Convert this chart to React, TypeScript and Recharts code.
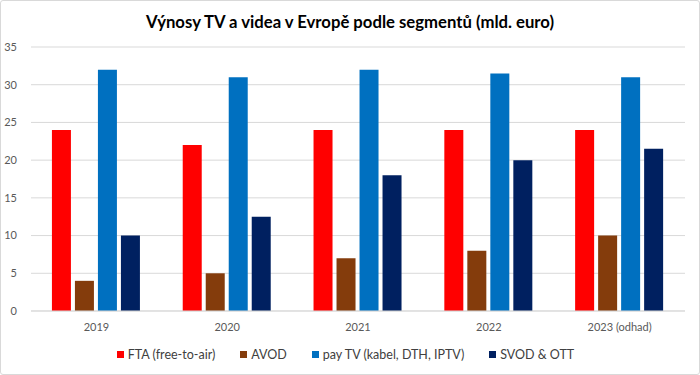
import { BarChart, Bar, XAxis, YAxis, CartesianGrid, Legend } from 'recharts'

const years = ['2019', '2020', '2021', '2022', '2023 (odhad)']
const fta = [24, 22, 24, 24, 24]
const avod = [4, 5, 7, 8, 10]
const payTv = [32, 31, 32, 31.5, 31]
const svod = [10, 12.5, 18, 20, 21.5]
const yTicks = [0, 5, 10, 15, 20, 25, 30, 35]

const series = [
  { key: 'fta', name: 'FTA (free-to-air)', color: '#ff0000' },
  { key: 'avod', name: 'AVOD', color: '#843c0c' },
  { key: 'pay', name: 'pay TV (kabel, DTH, IPTV)', color: '#0070c0' },
  { key: 'svod', name: 'SVOD & OTT', color: '#002060' },
]

const data = years.map((year, i) => ({
  year, fta: fta[i], avod: avod[i], pay: payTv[i], svod: svod[i],
}))

const font = 'Lato, "Noto Sans", sans-serif'

function LegendRow() {
  return (
    <div style={{ display: 'flex', justifyContent: 'center', gap: 25, paddingLeft: 6, fontFamily: font, fontSize: 12.5, color: '#404040' }}>
      {series.map((s) => (
        <span key={s.key} style={{ display: 'flex', alignItems: 'center' }}>
          <span style={{ width: 7, height: 7, background: s.color, marginRight: 4, display: 'inline-block' }} />
          {s.name}
        </span>
      ))}
    </div>
  )
}

export default function App() {
  return (
    <div style={{ position: 'absolute', left: 0, top: 0, width: 700, height: 375, background: '#fff' }}>
      <div style={{
        position: 'absolute', left: 0, top: 0, width: 698, height: 373,
        border: '1px solid #d9d9d9', borderRadius: 3,
      }} />
      <div style={{
        position: 'absolute', top: 12, left: 0, width: 700, textAlign: 'center',
        fontFamily: font, fontWeight: 700, fontSize: 16.7, color: '#000',
      }}>
        Výnosy TV a videa v Evropě podle segmentů (mld. euro)
      </div>
      <BarChart width={700} height={375} data={data}
        margin={{ top: 47, right: 15, bottom: 25, left: 0 }}
        barCategoryGap="16%" barGap={4}>
        <CartesianGrid vertical={false} stroke="#d9d9d9" />
        <XAxis dataKey="year" height={24} tickLine={false} axisLine={{ stroke: '#d9d9d9' }}
          tick={{ fontSize: 11, fill: '#595959', fontFamily: font }} tickMargin={6} />
        <YAxis width={31} domain={[0, 35]} ticks={yTicks} tickLine={false} axisLine={false}
          tick={{ fontSize: 11, fill: '#595959', fontFamily: font }} tickMargin={8} />
        <Legend verticalAlign="bottom" content={() => <LegendRow />}
          wrapperStyle={{ bottom: 13 }} />
        {series.map((s) => (
          <Bar key={s.key} dataKey={s.key} name={s.name} fill={s.color} isAnimationActive={false} />
        ))}
      </BarChart>
    </div>
  )
}
